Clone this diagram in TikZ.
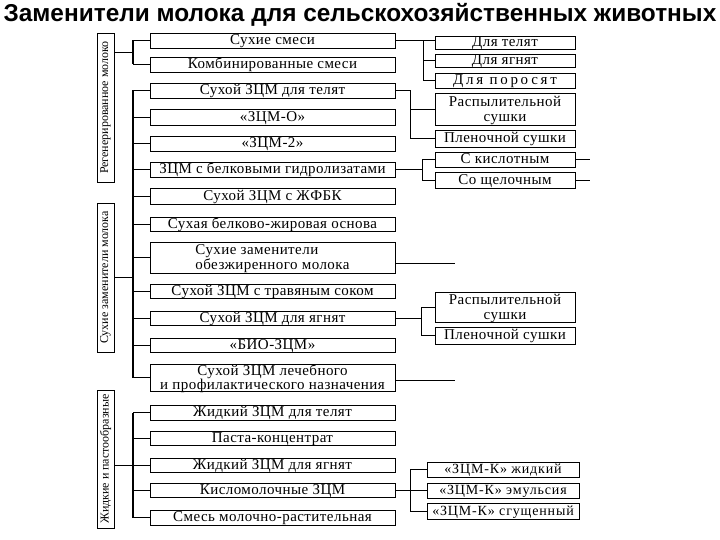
\documentclass[tikz,border=0pt]{standalone}
\usepackage{fontspec}
\setmainfont{Liberation Serif}
\newfontfamily\titlefont{Liberation Sans}
\newfontfamily\boxfont[LetterSpace=3]{Liberation Serif}
\newfontfamily\kfont[LetterSpace=6]{Liberation Serif}
\newfontfamily\wide[LetterSpace=18]{Liberation Serif}
\begin{document}
\begin{tikzpicture}[x=1pt,y=-1pt,
  base/.style={draw, line width=0.8pt, minimum height=15pt, inner sep=0pt, text height=10pt, text depth=1.5pt},
  mbox/.style={base, minimum width=245pt, font=\boxfont\fontsize{15}{15}\selectfont},
  rbox/.style={base, minimum width=140pt, font=\boxfont\fontsize{15}{15}\selectfont},
  kbox/.style={base, minimum width=152pt, font=\kfont\fontsize{14}{14}\selectfont},
  lbox/.style={draw, line width=0.8pt, minimum width=17pt, inner sep=0pt, font=\fontsize{12}{12}\selectfont},
  two/.style={align=center, text height=, text depth=1pt},
  conn/.style={line width=0.7pt},
  trunk/.style={line width=2pt}
]
\useasboundingbox (0,0) rectangle (720,540);
\fill[white] (0,0) rectangle (720,540);

\node[font=\titlefont\bfseries\fontsize{24.4}{26}\selectfont] (title) at (360,15) {Заменители молока для сельскохозяйственных животных};

% left labels
\node[lbox, minimum height=149pt] (reg) at (105.5,107.5) {\rotatebox{90}{Регенерированное молоко}};
\node[lbox, minimum height=149pt] (dry) at (105.5,277.5) {\rotatebox{90}{Сухие заменители молока}};
\node[lbox, minimum height=138pt] (liq) at (105.5,459) {\rotatebox{90}{Жидкие и пастообразные}};

% middle boxes
\node[mbox] (m1) at (272.5,40.5) {Сухие смеси};
\node[mbox] (m2) at (272.5,64.5) {Комбинированные смеси};
\node[mbox] (m3) at (272.5,90.5) {Сухой ЗЦМ для телят};
\node[mbox, minimum height=16pt] (m4) at (272.5,117) {«ЗЦМ-О»};
\node[mbox] (m5) at (272.5,143.5) {«ЗЦМ-2»};
\node[mbox] (m6) at (272.5,169.5) {ЗЦМ с белковыми гидролизатами};
\node[mbox, minimum height=16pt] (m7) at (272.5,196) {Сухой ЗЦМ с ЖФБК};
\node[mbox, minimum height=14pt] (m8) at (272.5,224) {Сухая белково-жировая основа};
\node[mbox, two, align=left, minimum height=31pt] (m9) at (272.5,257.5) {Сухие заменители\\обезжиренного молока};
\node[mbox, minimum height=14pt] (m10) at (272.5,291) {Сухой ЗЦМ с травяным соком};
\node[mbox, minimum height=14pt] (m11) at (272.5,318) {Сухой ЗЦМ для ягнят};
\node[mbox, minimum height=14pt] (m12) at (272.5,345) {«БИО-ЗЦМ»};
\node[mbox, two, minimum height=27pt, font=\boxfont\fontsize{15}{13.5}\selectfont] (m13) at (272.5,377.5) {Сухой ЗЦМ лечебного\\и профилактического назначения};
\node[mbox] (m14) at (272.5,412.5) {Жидкий ЗЦМ для телят};
\node[mbox, minimum height=14pt] (m15) at (272.5,438) {Паста-концентрат};
\node[mbox, minimum height=14pt] (m16) at (272.5,465) {Жидкий ЗЦМ для ягнят};
\node[mbox, minimum height=14pt] (m17) at (272.5,490) {Кисломолочные ЗЦМ};
\node[mbox] (m18) at (272.5,517.5) {Смесь молочно-растительная};

% right boxes
\node[rbox, minimum height=13pt] (r1) at (505,42.5) {Для телят};
\node[rbox, minimum height=13pt] (r2) at (505,60.5) {Для ягнят};
\node[rbox, font=\wide\fontsize{15}{15}\selectfont] (r3) at (505,80.5) {Для поросят};
\node[rbox, two, minimum height=32pt] (r4) at (505,109) {Распылительной\\сушки};
\node[rbox, minimum height=17pt] (r5) at (505,138.5) {Пленочной сушки};
\node[rbox] (r6) at (505,159.5) {С кислотным};
\node[rbox, minimum height=16pt] (r7) at (505,180) {Со щелочным};
\node[rbox, two, minimum height=30pt] (r8) at (505,307) {Распылительной\\сушки};
\node[rbox, minimum height=17pt] (r9) at (505,335.5) {Пленочной сушки};
\node[kbox] (k1) at (503,469.5) {«ЗЦМ-К» жидкий};
\node[kbox] (k2) at (503,490.5) {«ЗЦМ-К» эмульсия};
\node[kbox, minimum height=16pt] (k3) at (503,511) {«ЗЦМ-К» сгущенный};

% left connectors
\coordinate (t1) at (133,52);
\draw[conn] (reg.east |- t1) -- (t1);
\draw[trunk] (m1.west -| t1) -- (m2.west -| t1);
\draw[conn] (m1.west -| t1) -- (m1.west);
\draw[conn] (m2.west -| t1) -- (m2.west);

\coordinate (t2) at (133,277.5);
\draw[conn] (dry.east) -- (t2);
\draw[trunk] (m3.west -| t2) -- (m13.west -| t2);
\foreach \n in {m3,m4,m5,m6,m7,m8,m9,m10,m11,m12,m13}
  \draw[conn] (\n.west -| t2) -- (\n.west);

\coordinate (t3) at (133,465);
\draw[conn] (liq.east |- t3) -- (t3);
\draw[trunk] (m14.west -| t3) -- (m18.west -| t3);
\foreach \n in {m14,m15,m16,m17,m18}
  \draw[conn] (\n.west -| t3) -- (\n.west);

% right connectors
\coordinate (v1) at (423,40.5);
\draw[conn] (m1.east) -- (m1.east -| r1.west);
\draw[conn] (v1) -- (v1 |- r3.west);
\draw[conn] (v1 |- r2.west) -- (r2.west);
\draw[conn] (v1 |- r3.west) -- (r3.west);

\coordinate (v2) at (410,90.5);
\draw[conn] (m3.east) -- (v2) -- (v2 |- r5.west) -- (r5.west);
\draw[conn] (v2 |- r4.west) -- (r4.west);

\coordinate (v3) at (422,169.5);
\draw[conn] (m6.east) -- (v3);
\draw[conn] (v3 |- r6.west) -- (v3 |- r7.west);
\draw[conn] (v3 |- r6.west) -- (r6.west);
\draw[conn] (v3 |- r7.west) -- (r7.west);
\coordinate (s6) at (590,159.5);
\coordinate (s7) at (590,180);
\draw[conn] (r6.east) -- (s6);
\draw[conn] (r7.east) -- (s7);

\coordinate (e9) at (455,263);
\draw[conn] (m9.east |- e9) -- (e9);

\coordinate (v5) at (421,318);
\draw[conn] (m11.east) -- (v5);
\draw[conn] (v5 |- r8.west) -- (v5 |- r9.west);
\draw[conn] (v5 |- r8.west) -- (r8.west);
\draw[conn] (v5 |- r9.west) -- (r9.west);

\coordinate (e13) at (455,380);
\draw[conn] (m13.east |- e13) -- (e13);

\coordinate (v7) at (410,490);
\draw[conn] (m17.east) -- (v7);
\draw[conn] (v7 |- k1.west) -- (v7 |- k3.west);
\foreach \n in {k1,k2,k3}
  \draw[conn] (v7 |- \n.west) -- (\n.west);
\end{tikzpicture}
\end{document}
